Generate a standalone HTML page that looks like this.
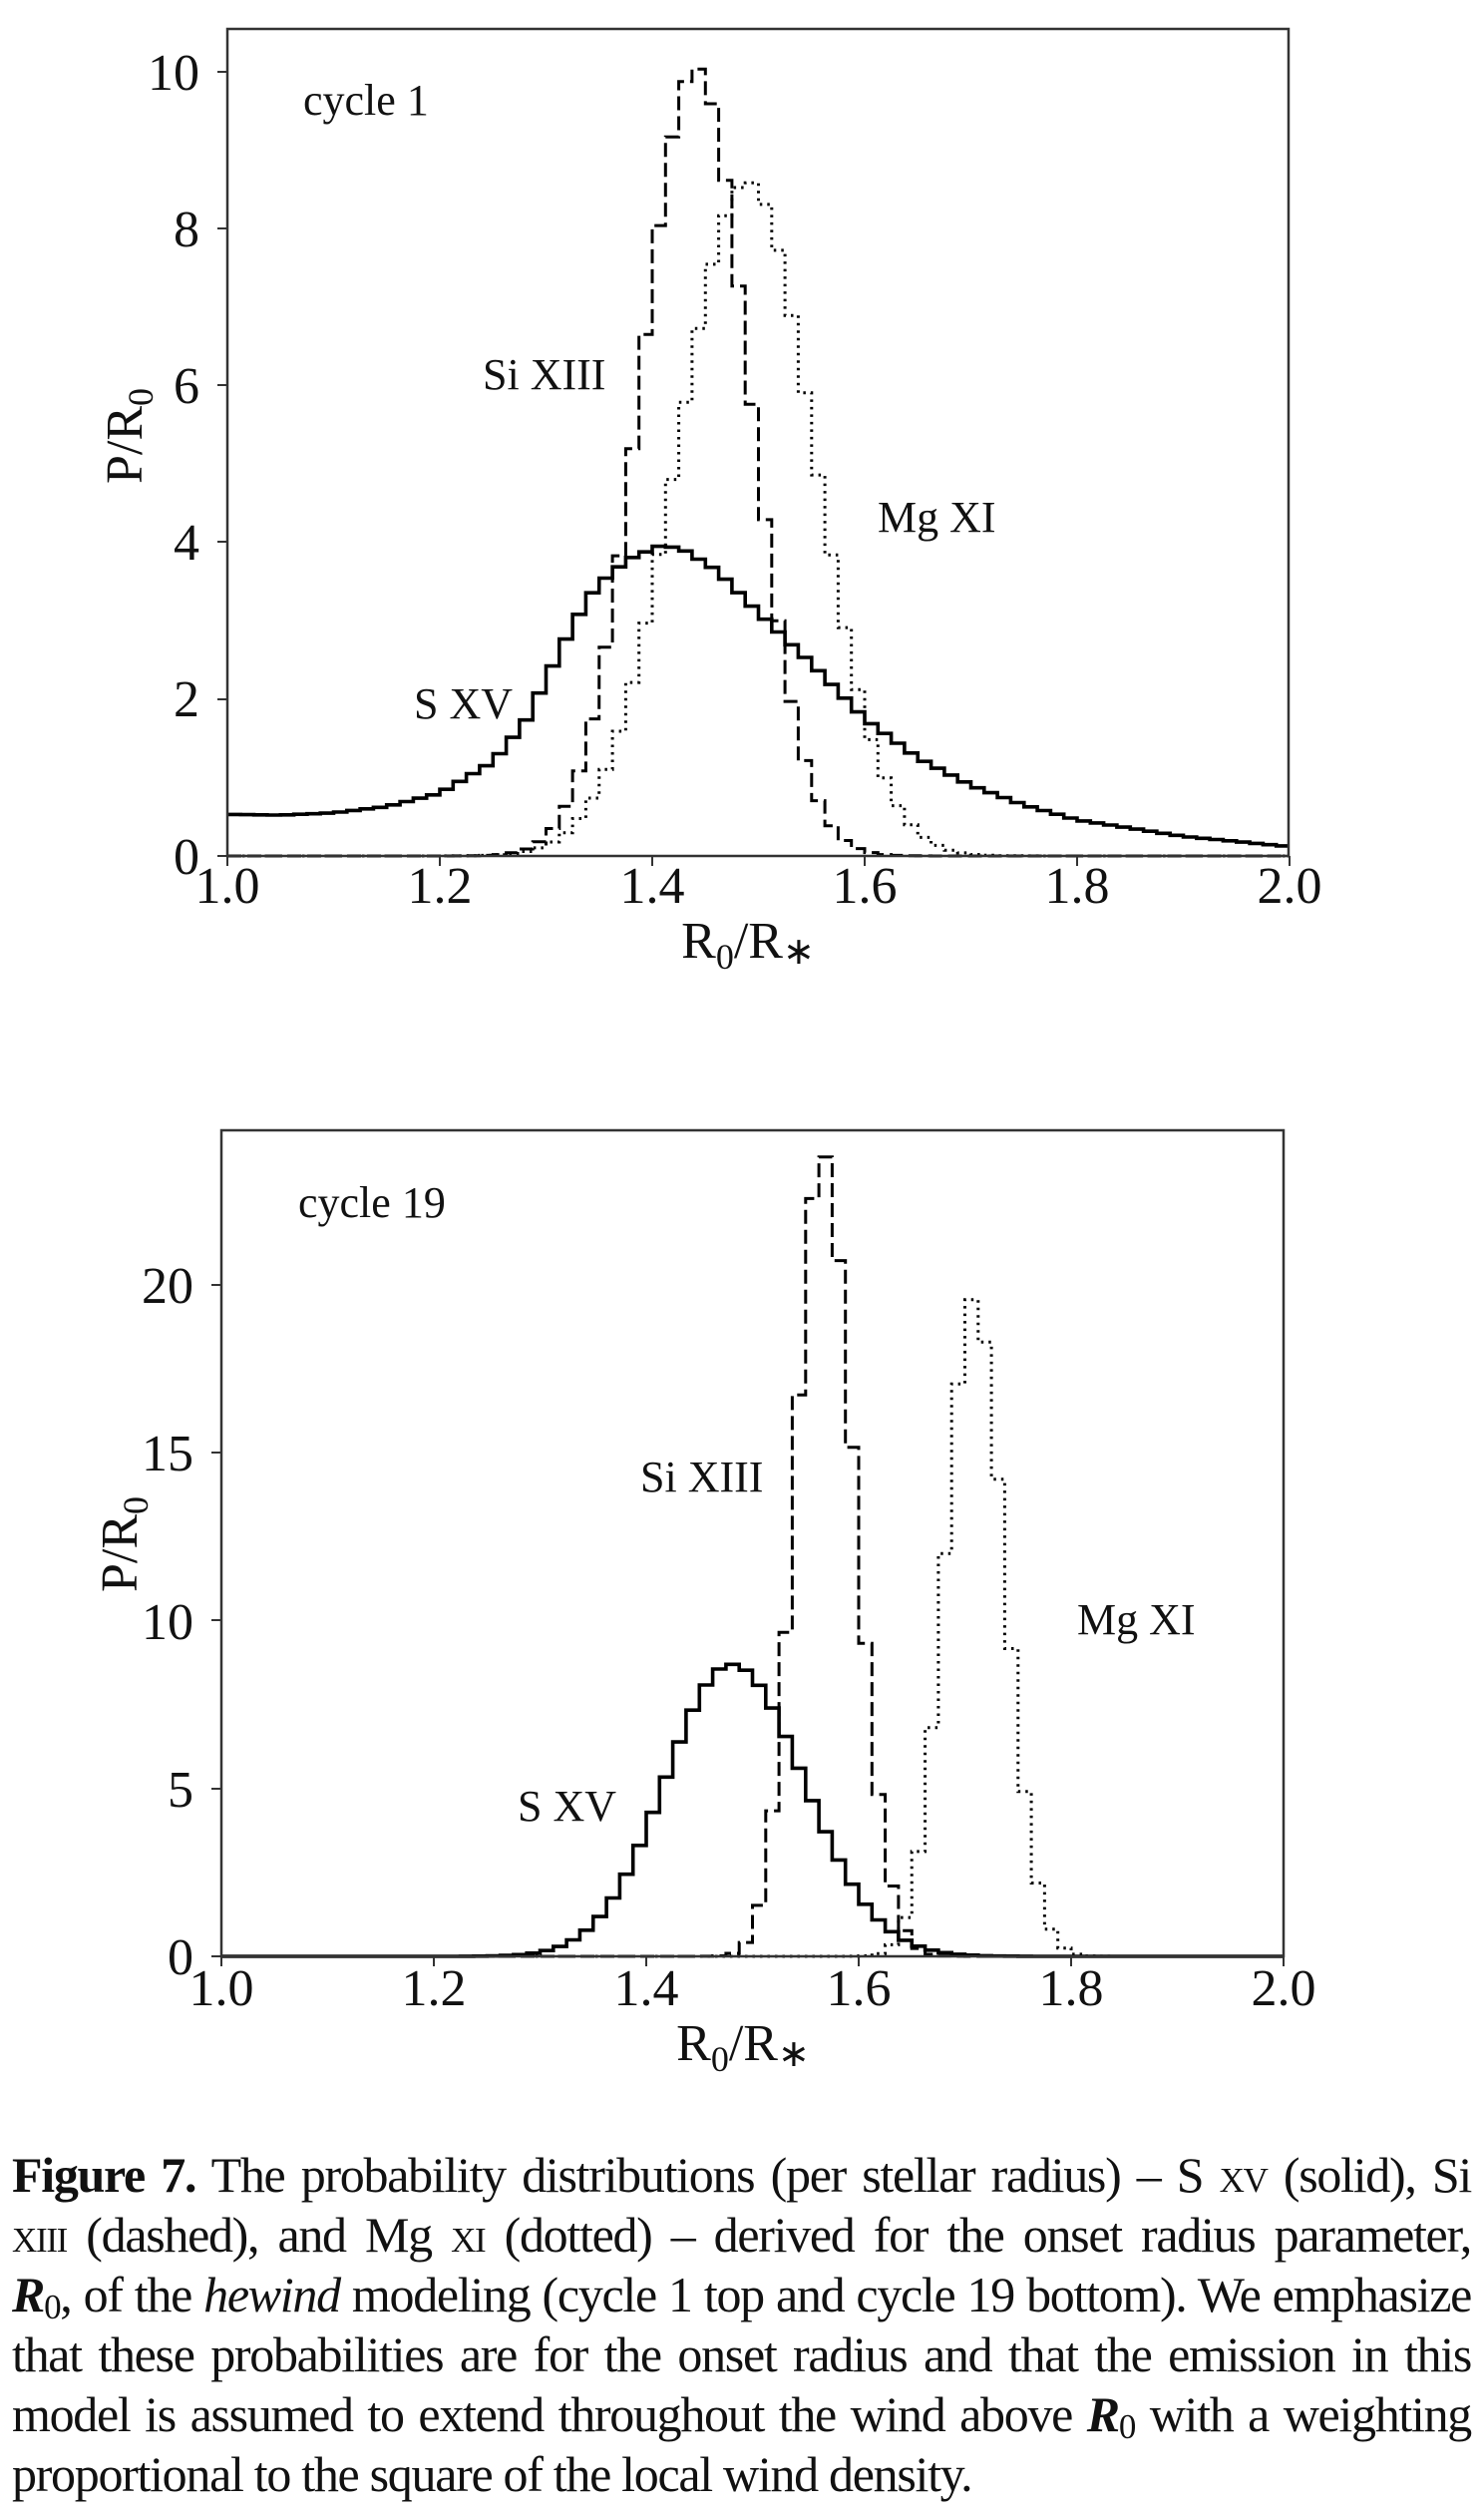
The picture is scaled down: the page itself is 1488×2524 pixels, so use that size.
<!DOCTYPE html>
<html><head><meta charset="utf-8">
<style>
html,body{margin:0;padding:0;background:#fff;}
body{width:1488px;height:2524px;position:relative;overflow:hidden;font-family:"Liberation Serif",serif;}
svg{position:absolute;left:0;top:0;}
.cap{position:absolute;left:12px;width:1463px;font-size:50px;letter-spacing:-1.3px;line-height:60px;height:60px;text-align:justify;text-align-last:justify;white-space:nowrap;color:#111;}
.cap.last{text-align-last:left;}
.sc{font-variant:small-caps;}
sub{font-size:0.7em;vertical-align:-0.2em;line-height:0;}
</style></head><body>
<svg id="s" width="1488" height="2524" viewBox="0 0 1488 2524" font-family="Liberation Serif, serif" fill="#111">
<g id="gtop"></g><g id="gbot"></g>
<g font-size="52" text-anchor="end">
<text x="200" y="876">0</text><text x="200" y="718">2</text><text x="200" y="561">4</text>
<text x="200" y="404">6</text><text x="200" y="247">8</text><text x="200" y="90">10</text>
</g>
<g font-size="52" text-anchor="middle">
<text x="228" y="905">1.0</text><text x="441" y="905">1.2</text><text x="654" y="905">1.4</text>
<text x="867" y="905">1.6</text><text x="1080" y="905">1.8</text><text x="1293" y="905">2.0</text>
<text x="750" y="960">R<tspan font-size="36" dy="11">0</tspan><tspan dy="-11">/R</tspan><tspan font-size="38" dy="6">∗</tspan></text>
</g>
<text transform="translate(142,437) rotate(-90)" font-size="52" text-anchor="middle">P/R<tspan font-size="36" dy="11">0</tspan></text>
<g font-size="44">
<text x="304" y="115">cycle 1</text><text x="484" y="390">Si XIII</text>
<text x="880" y="533">Mg XI</text><text x="415" y="720">S XV</text>
</g>
<g font-size="52" text-anchor="end">
<text x="194" y="1979">0</text><text x="194" y="1811">5</text><text x="194" y="1643">10</text>
<text x="194" y="1474">15</text><text x="194" y="1306">20</text>
</g>
<g font-size="52" text-anchor="middle">
<text x="222" y="2010">1.0</text><text x="435" y="2010">1.2</text><text x="648" y="2010">1.4</text>
<text x="861" y="2010">1.6</text><text x="1074" y="2010">1.8</text><text x="1287" y="2010">2.0</text>
<text x="745" y="2065">R<tspan font-size="36" dy="11">0</tspan><tspan dy="-11">/R</tspan><tspan font-size="38" dy="6">∗</tspan></text>
</g>
<text transform="translate(137,1548) rotate(-90)" font-size="52" text-anchor="middle">P/R<tspan font-size="36" dy="11">0</tspan></text>
<g font-size="44">
<text x="299" y="1220">cycle 19</text><text x="642" y="1495">Si XIII</text>
<text x="1080" y="1638">Mg XI</text><text x="519" y="1825">S XV</text>
</g>
</svg>
<div class="cap" style="top:2150px"><b>Figure 7.</b> The probability distributions (per stellar radius) – S <span class="sc">xv</span> (solid), Si</div>
<div class="cap" style="top:2210px"><span class="sc">xiii</span> (dashed), and Mg <span class="sc">xi</span> (dotted) – derived for the onset radius parameter,</div>
<div class="cap" style="top:2270px"><i><b>R</b></i><sub>0</sub>, of the <i>hewind</i> modeling (cycle 1 top and cycle 19 bottom). We emphasize</div>
<div class="cap" style="top:2330px">that these probabilities are for the onset radius and that the emission in this</div>
<div class="cap" style="top:2390px">model is assumed to extend throughout the wind above <i><b>R</b></i><sub>0</sub> with a weighting</div>
<div class="cap last" style="top:2450px">proportional to the square of the local wind density.</div>
<script>
(function(){
var NS="http://www.w3.org/2000/svg";
function el(p,t,a){var e=document.createElementNS(NS,t);for(var k in a)e.setAttribute(k,a[k]);p.appendChild(e);return e;}
function ag(x,m,sl,sr,A){var s=x<m?sl:sr;return A*Math.exp(-0.5*Math.pow((x-m)/s,2));}
function interp(tab,x){for(var i=0;i<tab.length-1;i++){if(x>=tab[i][0]&&x<=tab[i+1][0]){var t=(x-tab[i][0])/(tab[i+1][0]-tab[i][0]);return tab[i][1]+t*(tab[i+1][1]-tab[i][1]);}}return tab[tab.length-1][1];}
function hist(g,f,X0,XS,Y0,YS,style){
  var w=0.0125,d="";
  for(var i=0;i<80;i++){var a=1+i*w,b=a+w,v=f(a+w/2);
    var px1=X0+(a-1)*XS,px2=X0+(b-1)*XS,py=Y0-v*YS;
    d+=(i==0?"M":"L")+px1.toFixed(1)+" "+py.toFixed(1)+"L"+px2.toFixed(1)+" "+py.toFixed(1);}
  var o={d:d,fill:"none",stroke:"#000","stroke-linejoin":"miter"};for(var k in style)o[k]=style[k];el(g,"path",o);}
function frame(g,L,T,R,B,xt,yt){
  el(g,"rect",{x:L,y:T,width:R-L,height:B-T,fill:"none",stroke:"#333","stroke-width":2.5});
  xt.forEach(function(x){el(g,"line",{x1:x,x2:x,y1:B,y2:B+10,stroke:"#333","stroke-width":2});});
  yt.forEach(function(y){el(g,"line",{x1:L-10,x2:L,y1:y,y2:y,stroke:"#333","stroke-width":2});});}
var gt=document.getElementById("gtop"),gb=document.getElementById("gbot");
var sxv=[[1,0.53],[1.05,0.52],[1.1,0.55],[1.15,0.63],[1.2,0.8],[1.25,1.2],[1.28,1.7],[1.3,2.25],[1.32,2.8],[1.34,3.3],[1.36,3.6],[1.38,3.8],[1.41,3.97],[1.43,3.9],[1.46,3.65],[1.5,3.1],[1.55,2.45],[1.6,1.75],[1.65,1.25],[1.7,0.9],[1.75,0.65],[1.8,0.46],[1.9,0.25],[2.0,0.12]];
hist(gt,function(x){return ag(x,1.49,0.066,0.062,8.6);},228,1065,858,78.6,{"stroke-width":3,"stroke-dasharray":"2.5 5"});
hist(gt,function(x){return ag(x,1.441,0.052,0.05,10.05);},228,1065,858,78.6,{"stroke-width":3,"stroke-dasharray":"14 6"});
hist(gt,function(x){return interp(sxv,x);},228,1065,858,78.6,{"stroke-width":3.6});
frame(gt,228,29,1292,858,[228,441,654,867,1080,1293],[858,701,543,386,229,72]);
hist(gb,function(x){return ag(x,1.708,0.027,0.029,19.6);},222,1065,1961,33.65,{"stroke-width":3,"stroke-dasharray":"2.5 5"});
hist(gb,function(x){return ag(x,1.565,0.025,0.03,24);},222,1065,1961,33.65,{"stroke-width":3,"stroke-dasharray":"14 6"});
hist(gb,function(x){return ag(x,1.48,0.062,0.068,8.7);},222,1065,1961,33.65,{"stroke-width":3.6});
frame(gb,222,1133,1287,1961,[222,435,648,861,1074,1287],[1961,1793,1624,1456,1288]);
})();
</script>
</body></html>
